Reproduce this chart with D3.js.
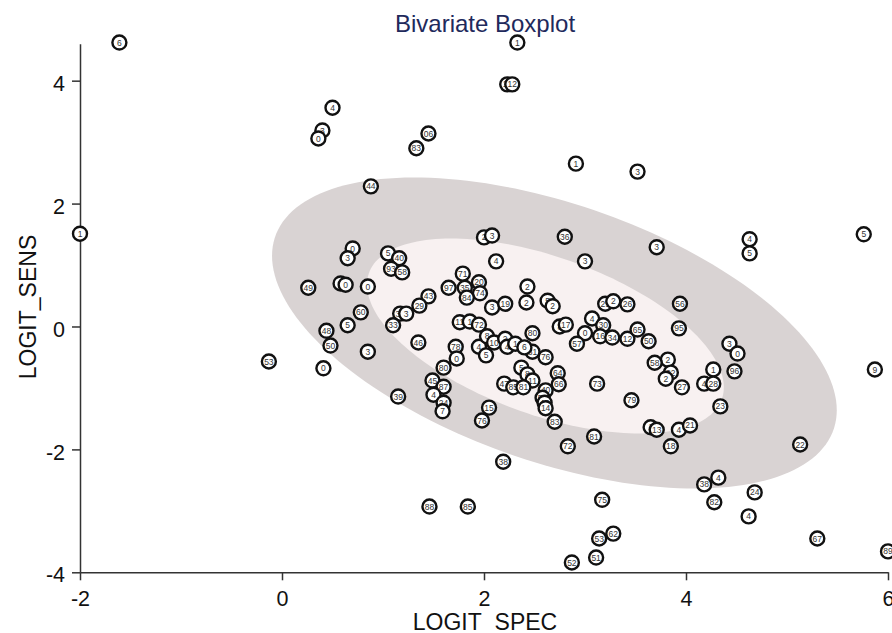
<!DOCTYPE html>
<html>
<head>
<meta charset="utf-8">
<script src="https://cdn.jsdelivr.net/npm/d3@7"></script>
<style>
  body { margin: 0; background: #fff; }
  svg text { font-family: "Liberation Sans", Arial, sans-serif; }
</style>
</head>
<body>
<div id="chart"></div>
<script>
// study labels, logit specificity (x) and logit sensitivity (y)
const studyLabels = [
  '6','1','11','12','4','3','0','06','83','1','44','3','1','5','4','5','3','3','36','2',
  '3','4','0','3','5','40','93','58','49','1','0','0','71','97','35','20','74','84','43','29',
  '60','5','48','50','3','0','38','3','33','46','3','19','2','2','5','2','11','1','72','4',
  '78','0','5','80','45','87','4','24','7','39','15','76','38','88','85','52','83','72','81','75',
  '53','62','51','22','4','38','24','82','4','67','89','9','53','1','13','4','21','18','23','56',
  '95','3','0','96','1','4','28','27','2','58','22','2','73','79','29','2','26','4','30','0',
  '16','34','12','65','50','57','8','17','8','10','2','4','1','80','81','6','76','5','64','66',
  '8','11','47','85','81','40','54','42','14'
];
const specValues = [
  -1.61, 2.33, 2.23, 2.28, 0.50, 0.40, 0.36, 1.45, 1.33, 2.91, 0.88, 3.52, -2.00, 5.76, 4.63, 4.63, 3.71, 3.00, 2.80, 2.00,
  2.08, 2.12, 0.70, 0.65, 1.05, 1.16, 1.08, 1.19, 0.26, 0.58, 0.63, 0.85, 1.79, 1.65, 1.81, 1.95, 1.96, 1.83, 1.45, 1.36,
  0.78, 0.65, 0.44, 0.48, 0.85, 0.41, 1.17, 1.23, 1.10, 1.35, 2.08, 2.21, 2.43, 2.42, 2.63, 2.68, 1.76, 1.86, 1.95, 1.95,
  1.72, 1.73, 2.02, 1.60, 1.49, 1.60, 1.50, 1.60, 1.59, 1.15, 2.05, 1.98, 2.19, 1.46, 1.84, 2.87, 2.70, 2.83, 3.09, 3.17,
  3.14, 3.28, 3.11, 5.13, 4.32, 4.18, 4.68, 4.28, 4.62, 5.30, 6.00, 5.87, -0.13, 3.65, 3.71, 3.93, 4.04, 3.85, 4.34, 3.94,
  3.93, 4.43, 4.51, 4.48, 4.27, 4.18, 4.27, 3.96, 3.82, 3.69, 3.85, 3.80, 3.12, 3.46, 3.20, 3.28, 3.42, 3.07, 3.18, 3.00,
  3.15, 3.27, 3.42, 3.52, 3.63, 2.92, 2.75, 2.81, 2.03, 2.10, 2.21, 2.23, 2.31, 2.48, 2.48, 2.40, 2.61, 2.37, 2.73, 2.74,
  2.43, 2.48, 2.20, 2.29, 2.39, 2.61, 2.58, 2.60, 2.61
];
const sensValues = [
  4.62, 4.62, 3.94, 3.94, 3.56, 3.19, 3.06, 3.14, 2.90, 2.65, 2.28, 2.52, 1.51, 1.50, 1.42, 1.19, 1.29, 1.06, 1.46, 1.45,
  1.48, 1.06, 1.27, 1.11, 1.19, 1.11, 0.94, 0.88, 0.63, 0.70, 0.68, 0.65, 0.86, 0.63, 0.63, 0.72, 0.54, 0.47, 0.49, 0.34,
  0.23, 0.02, -0.07, -0.31, -0.41, -0.68, 0.21, 0.21, 0.02, -0.26, 0.31, 0.37, 0.65, 0.39, 0.42, 0.33, 0.07, 0.08, 0.03, -0.33,
  -0.33, -0.52, -0.47, -0.67, -0.88, -0.98, -1.11, -1.24, -1.38, -1.14, -1.32, -1.53, -2.20, -2.93, -2.93, -3.84, -1.55, -1.95, -1.79, -2.82,
  -3.45, -3.37, -3.76, -1.92, -2.46, -2.57, -2.70, -2.86, -3.09, -3.45, -3.66, -0.70, -0.57, -1.64, -1.68, -1.68, -1.61, -1.95, -1.30, 0.37,
  -0.03, -0.28, -0.44, -0.73, -0.70, -0.93, -0.93, -0.99, -0.54, -0.59, -0.75, -0.85, -0.93, -1.20, 0.37, 0.41, 0.36, 0.13, 0.02, -0.11,
  -0.16, -0.18, -0.20, -0.05, -0.24, -0.28, 0.00, 0.03, -0.16, -0.26, -0.20, -0.33, -0.28, -0.11, -0.41, -0.34, -0.50, -0.67, -0.76, -0.94,
  -0.78, -0.88, -0.93, -0.99, -0.99, -1.04, -1.16, -1.24, -1.33
];
const xTicks = [-2, 0, 2, 4, 6];
const yTicks = [-4, -2, 0, 2, 4];

// fence (outer) and hinge (inner) ellipses: centre and covariance in data units
const fence = { cx: 2.697, cy: -0.106, sxx: 7.816, syy: 6.403, sxy: -3.511 };
const hinge = { cx: 2.608, cy: -0.155, sxx: 3.120, syy: 2.517, sxy: -1.475 };

const width = 892, height = 633;
const svg = d3.select('#chart').append('svg')
  .attr('width', width)
  .attr('height', height);

const x = d3.scaleLinear().domain([-2, 6]).range([80, 888]);
const y = d3.scaleLinear().domain([-4, 4.6]).range([572.3, 43.8]);

// ellipse outline from covariance (cholesky)
function ellipsePoints(e) {
  const l11 = Math.sqrt(e.sxx);
  const l21 = e.sxy / l11;
  const l22 = Math.sqrt(e.syy - l21 * l21);
  return d3.range(0, 360, 2).map(a => {
    const t = a * Math.PI / 180;
    const u = Math.cos(t), v = Math.sin(t);
    return [e.cx + l11 * u, e.cy + l21 * u + l22 * v];
  });
}
const ellLine = d3.line()
  .x(d => x(d[0]))
  .y(d => y(d[1]))
  .curve(d3.curveLinearClosed);

svg.append('path')
  .attr('d', ellLine(ellipsePoints(fence)))
  .attr('fill', '#d9d3d3');
svg.append('path')
  .attr('d', ellLine(ellipsePoints(hinge)))
  .attr('fill', '#f8f1f1');

// axes (plain hyphen for negatives, like the original)
const fmt = d => String(d);
const xAxis = svg.append('g')
  .attr('transform', `translate(0,${y(-4)})`)
  .call(d3.axisBottom(x).tickValues(xTicks).tickFormat(fmt).tickSize(8).tickSizeOuter(0).tickPadding(12));
const yAxis = svg.append('g')
  .attr('transform', `translate(${x(-2)},0)`)
  .call(d3.axisLeft(y).tickValues(yTicks).tickFormat(fmt).tickSize(8).tickSizeOuter(0).tickPadding(7));

[xAxis, yAxis].forEach(g => {
  g.select('.domain').attr('stroke', '#333').attr('stroke-width', 1.5);
  g.selectAll('.tick line').attr('stroke', '#333').attr('stroke-width', 1.5);
  g.selectAll('.tick text').attr('font-size', 21.5).attr('fill', '#111')
    .attr('font-family', '"Liberation Sans", Arial, sans-serif');
});
yAxis.selectAll('.tick text').attr('dy', '0.45em');
xAxis.selectAll('.tick text').attr('dy', '0.62em');

// titles
svg.append('text')
  .attr('x', 485).attr('y', 32)
  .attr('text-anchor', 'middle')
  .attr('font-size', 24)
  .attr('fill', '#1f2a5c')
  .text('Bivariate Boxplot');

svg.append('text')
  .attr('x', 485).attr('y', 630)
  .attr('text-anchor', 'middle')
  .attr('font-size', 23)
  .attr('fill', '#111')
  .text('LOGIT_SPEC');

svg.append('text')
  .attr('transform', 'translate(36,307) rotate(-90)')
  .attr('text-anchor', 'middle')
  .attr('font-size', 23)
  .attr('fill', '#111')
  .text('LOGIT_SENS');

// points
const points = studyLabels.map((lab, i) => ({ lab, sx: specValues[i], sy: sensValues[i] }));
const pts = svg.append('g').selectAll('g')
  .data(points)
  .enter().append('g')
  .attr('transform', d => `translate(${x(d.sx)},${y(d.sy)})`);

pts.append('circle')
  .attr('r', 7)
  .attr('fill', '#fff')
  .attr('stroke', '#111')
  .attr('stroke-width', 2.4);

pts.append('text')
  .attr('text-anchor', 'middle')
  .attr('dy', '0.36em')
  .attr('font-size', 8.5)
  .attr('fill', '#333')
  .text(d => d.lab);
</script>
</body>
</html>
